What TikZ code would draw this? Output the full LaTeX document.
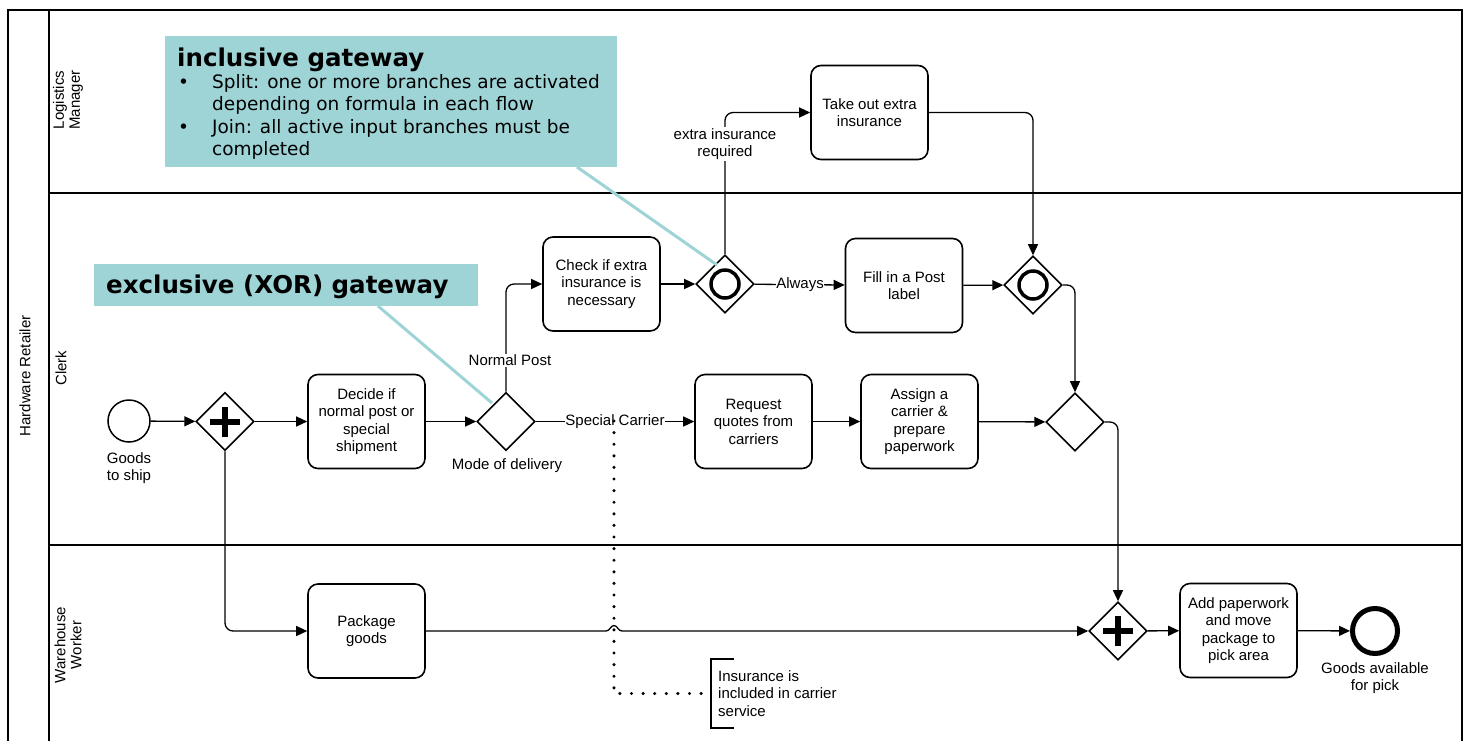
\documentclass[tikz,border=0pt]{standalone}
\usepackage{fontspec}
\setmainfont{Liberation Sans}
\newfontfamily\callfont{DejaVu Sans}
\usetikzlibrary{shapes.geometric,arrows.meta}
\definecolor{callout}{RGB}{159,212,215}

\begin{document}
\begin{tikzpicture}[x=1pt,y=-1pt,
  font=\fontsize{15}{17.5}\selectfont,
  task/.style={draw,line width=1.6pt,rounded corners=10pt,minimum width=117pt,
    minimum height=94pt,align=center,inner sep=2pt},
  gw/.style={draw,diamond,line width=1.6pt,minimum width=58pt,minimum height=58pt,
    inner sep=0pt,fill=white},
  flow/.style={line width=1.3pt,rounded corners=8pt,-{Triangle[length=11pt,width=10pt]}},
  lbl/.style={fill=white,inner xsep=0.5pt,inner ysep=1pt,align=center},
  evtext/.style={align=center,inner sep=0pt},
  lanetext/.style={rotate=90,align=center,inner sep=0pt,font=\fontsize{15}{16}\selectfont},
  assoc/.style={line width=3.4pt,line cap=round,dash pattern=on 0pt off 11.6pt},
  calltext/.style={anchor=base west,inner sep=0pt,font=\callfont\fontsize{18.5}{22}\selectfont},
  calltitle/.style={anchor=base west,inner sep=0pt,font=\callfont\bfseries\fontsize{24.5}{28}\selectfont},
  callline/.style={draw=callout,line width=3pt}]

\useasboundingbox (0,0) rectangle (1470,740);

% pool and lanes
\draw[line width=2pt] (8,741) -- (8,10) -- (1462,10) -- (1462,741);
\draw[line width=1.2pt] (49,10) -- (49,741);
\draw[line width=1.2pt] (49,193) -- (1462,193);
\draw[line width=1.2pt] (49,545) -- (1462,545);
\node[lanetext] (pool) at (25,376) {Hardware Retailer};
\node[lanetext] (lanelm) at (68,100) {Logistics\\Manager};
\node[lanetext] (laneclerk) at (61,368) {Clerk};
\node[lanetext] (lanewh) at (68,645) {Warehouse\\Worker};

% activities
\node[task] (decide) at (366.5,421.5) {Decide if\\normal post or\\special\\shipment};
\node[task] (check) at (601.5,284) {Check if extra\\insurance is\\necessary};
\node[task] (takeout) at (869.5,112.5) {Take out extra\\insurance};
\node[task] (fill) at (904,285.5) {Fill in a Post\\label};
\node[task] (request) at (753.5,421.5) {Request\\quotes from\\carriers};
\node[task] (assign) at (919.5,421.5) {Assign a\\carrier \&\\prepare\\paperwork};
\node[task] (package) at (366.5,631) {Package\\goods};
\node[task] (add) at (1238.5,630.5) {Add paperwork\\and move\\package to\\pick area};

% events
\node[circle,draw,line width=1.5pt,minimum size=42pt,inner sep=0pt] (start) at (129,421) {};
\node[evtext] (startlbl) at (129,468) {Goods\\to ship};
\node[circle,draw,line width=5pt,minimum size=45pt,inner sep=0pt] (end) at (1375,631) {};
\node[evtext] (endlbl) at (1375,678) {Goods available\\for pick};

% gateways
\node[gw] (g1) at (225,421.5) {};
\node[gw] (g2) at (506,421.5) {};
\node[evtext] (g2lbl) at (507,466) {Mode of delivery};
\node[gw] (g3) at (725,284) {};
\node[gw] (g4) at (1033,285) {};
\node[gw] (g5) at (1075,422) {};
\node[gw] (g6) at (1118,631) {};
\foreach \g in {g1,g6}{
  \draw[line width=6pt] ([xshift=-15pt]\g.center) -- ([xshift=15pt]\g.center);
  \draw[line width=6pt] ([yshift=-15pt]\g.center) -- ([yshift=15pt]\g.center);
}
\foreach \g in {g3,g4}{
  \draw[line width=3.5pt] (\g.center) circle[radius=14pt];
}

% sequence flows
\draw[flow] (start) -- (g1);
\draw[flow] (g1) -- (decide);
\draw[flow] (decide) -- (g2);
\draw[flow] (g2.north) |- (check.west);
\draw[flow] (check) -- (g3);
\draw[flow] (g3.north) |- (takeout.west);
\draw[flow] (g3) -- (fill);
\draw[flow] (takeout.east) -| (g4.north);
\draw[flow] (fill) -- (g4);
\draw[flow] (g4.east) -| (g5.north);
\draw[flow] (g2) -- (request);
\draw[flow] (request) -- (assign);
\draw[flow] (assign) -- (g5);
\draw[flow] (g5.east) -| (g6.north);
\draw[flow] (g1.south) |- (package.west);
% line jump where the association crosses
\draw[flow,sharp corners] (package.east) -- (606,631)
  .. controls (610,631) and (610.5,625.5) .. (614,625.5)
  .. controls (617.5,625.5) and (618,631) .. (622,631) -- (g6.west);
\draw[flow] (g6) -- (add);
\draw[flow] (add) -- (end);

% flow labels
\node[lbl] (lnormal) at (510,360) {Normal Post};
\node[lbl] (lextra) at (725,144) {extra insurance\\required};
\node[lbl] (lalways) at (800,284.5) {Always};
\node[lbl] (lspecial) at (615,421.5) {Special Carrier};

% text annotation and association
\coordinate (assocstart) at (614,421);
\coordinate (notepoint) at (711,693.5);
\draw[line width=1.2pt] (734,659) -- (711,659) -- (711,728) -- (734,728);
\node[anchor=west,align=left,inner sep=0pt] (note) at (718,693.5)
  {Insurance is\\included in carrier\\service};
\draw[assoc] (assocstart) |- (notepoint);

% callouts
\node[fill=callout,minimum width=452pt,minimum height=131pt,anchor=north west,inner sep=0pt]
  (inclbox) at (165,36) {};
\coordinate (inclfoot) at (577,167);
\coordinate (incltip) at (717,265);
\draw[callline] (inclfoot) -- (incltip);
\node[calltitle] (incltitle) at (177,66) {inclusive gateway};
\node[calltext] (b1) at (178,88) {•};
\node[calltext] (s1) at (212,88) {Split: one or more branches are activated};
\node[calltext] (s2) at (212,110.5) {depending on formula in each flow};
\node[calltext] (b2) at (178,133) {•};
\node[calltext] (j1) at (212,133) {Join: all active input branches must be};
\node[calltext] (j2) at (212,155) {completed};

\node[fill=callout,minimum width=384pt,minimum height=42pt,anchor=north west,inner sep=0pt]
  (exclbox) at (94,264) {};
\coordinate (exclfoot) at (378,306);
\coordinate (excltip) at (492,403);
\draw[callline] (exclfoot) -- (excltip);
\node[calltitle] (excltitle) at (106,293) {exclusive (XOR) gateway};

\end{tikzpicture}
\end{document}
